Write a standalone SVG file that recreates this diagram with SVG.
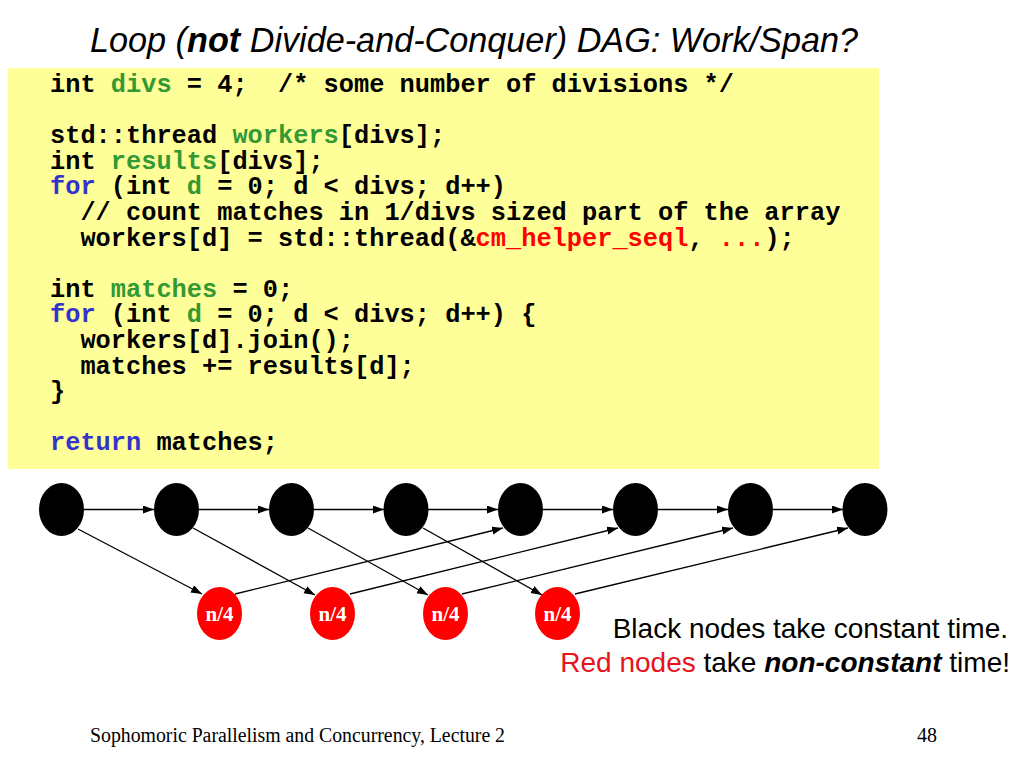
<svg xmlns="http://www.w3.org/2000/svg" width="1024" height="768" viewBox="0 0 1024 768">
<defs>
<marker id="arr" markerWidth="12" markerHeight="10" refX="11" refY="4" orient="auto" markerUnits="userSpaceOnUse">
<path d="M0,0 L11,4 L0,8 Z" fill="#000"/>
</marker>
<style>
.title{font-family:"Liberation Sans",Arial,sans-serif;font-style:italic;font-size:35px;fill:#000}
.code{font-family:"Liberation Mono","Courier New",monospace;font-weight:bold;font-size:25.33px;fill:#000;white-space:pre}
.g{fill:#339933}.b{fill:#3333CC}.r{fill:#FF0000}
.blk{fill:#000}
.red{fill:#FF0000}
.lbl{font-family:"Liberation Serif","Times New Roman",serif;font-weight:bold;font-size:21px;fill:#fff;text-anchor:middle}
.edge{stroke:#000;stroke-width:1.3;fill:none;marker-end:url(#arr)}
.leg{font-family:"Liberation Sans",Arial,sans-serif;font-size:28px;fill:#000;text-anchor:end}
.foot{font-family:"Liberation Serif","Times New Roman",serif;font-size:20px;fill:#000}
</style>
</defs>
<rect width="1024" height="768" fill="#fff"/>
<text class="title" x="90" y="52" textLength="768" lengthAdjust="spacingAndGlyphs">Loop (<tspan font-weight="bold">not</tspan> Divide-and-Conquer) DAG: Work/Span?</text>
<g id="code">
<rect x="8" y="68" width="871" height="401" fill="#FFFF99"/>
<text class="code" xml:space="preserve" x="50" y="92">int <tspan class="g">divs</tspan> = 4;  /* some number of divisions */</text>
<text class="code" xml:space="preserve" x="50" y="143.2">std::thread <tspan class="g">workers</tspan>[divs];</text>
<text class="code" xml:space="preserve" x="50" y="168.8">int <tspan class="g">results</tspan>[divs];</text>
<text class="code" xml:space="preserve" x="50" y="194.4"><tspan class="b">for</tspan> (int <tspan class="g">d</tspan> = 0; d &lt; divs; d++)</text>
<text class="code" xml:space="preserve" x="50" y="220">  // count matches in 1/divs sized part of the array</text>
<text class="code" xml:space="preserve" x="50" y="245.6">  workers[d] = std::thread(&amp;<tspan class="r">cm_helper_seql</tspan>, <tspan class="r">...</tspan>);</text>
<text class="code" xml:space="preserve" x="50" y="296.8">int <tspan class="g">matches</tspan> = 0;</text>
<text class="code" xml:space="preserve" x="50" y="322.4"><tspan class="b">for</tspan> (int <tspan class="g">d</tspan> = 0; d &lt; divs; d++) {</text>
<text class="code" xml:space="preserve" x="50" y="348">  workers[d].join();</text>
<text class="code" xml:space="preserve" x="50" y="373.6">  matches += results[d];</text>
<text class="code" xml:space="preserve" x="50" y="399.2">}</text>
<text class="code" xml:space="preserve" x="50" y="450.4"><tspan class="b">return</tspan> matches;</text>
</g>
<g id="connectors">
<line class="edge" x1="84" y1="509.5" x2="154" y2="509.5"/>
<line class="edge" x1="199" y1="509.5" x2="269" y2="509.5"/>
<line class="edge" x1="314" y1="509.5" x2="384" y2="509.5"/>
<line class="edge" x1="428" y1="509.5" x2="498" y2="509.5"/>
<line class="edge" x1="543" y1="509.5" x2="613" y2="509.5"/>
<line class="edge" x1="658" y1="509.5" x2="728" y2="509.5"/>
<line class="edge" x1="773" y1="509.5" x2="843" y2="509.5"/>
<line class="edge" x1="78" y1="529" x2="202" y2="594"/>
<line class="edge" x1="193" y1="528" x2="315" y2="595"/>
<line class="edge" x1="308" y1="528" x2="428" y2="595"/>
<line class="edge" x1="423" y1="528" x2="542" y2="595"/>
<line class="edge" x1="235" y1="594" x2="503" y2="528"/>
<line class="edge" x1="350" y1="594" x2="618" y2="528"/>
<line class="edge" x1="462" y1="594" x2="733" y2="528"/>
<line class="edge" x1="575" y1="594" x2="848" y2="528"/>
</g>
<g id="b0"><ellipse class="blk" cx="61.5" cy="509.5" rx="22.5" ry="26.5"/></g>
<g id="b1"><ellipse class="blk" cx="176.5" cy="509.5" rx="22.5" ry="26.5"/></g>
<g id="b2"><ellipse class="blk" cx="291.5" cy="509.5" rx="22.5" ry="26.5"/></g>
<g id="b3"><ellipse class="blk" cx="406" cy="509.5" rx="22.5" ry="26.5"/></g>
<g id="b4"><ellipse class="blk" cx="520.5" cy="509.5" rx="22.5" ry="26.5"/></g>
<g id="b5"><ellipse class="blk" cx="635.5" cy="509.5" rx="22.5" ry="26.5"/></g>
<g id="b6"><ellipse class="blk" cx="750.5" cy="509.5" rx="22.5" ry="26.5"/></g>
<g id="b7"><ellipse class="blk" cx="865" cy="509.5" rx="22.5" ry="26.5"/></g>
<g id="r0"><ellipse class="red" cx="219.5" cy="613.5" rx="22.5" ry="26.5"/><text class="lbl" x="219.5" y="621">n/4</text></g>
<g id="r1"><ellipse class="red" cx="332.5" cy="613.5" rx="22.5" ry="26.5"/><text class="lbl" x="332.5" y="621">n/4</text></g>
<g id="r2"><ellipse class="red" cx="445.5" cy="613.5" rx="22.5" ry="26.5"/><text class="lbl" x="445.5" y="621">n/4</text></g>
<g id="r3"><ellipse class="red" cx="557.5" cy="613.5" rx="22.5" ry="26.5"/><text class="lbl" x="557.5" y="621">n/4</text></g>
<g id="legend">
<text class="leg" x="1008" y="638">Black nodes take constant time.</text>
<text class="leg" x="1010" y="672"><tspan fill="#E8141B">Red nodes</tspan> take <tspan font-weight="bold" font-style="italic">non-constant</tspan> time!</text>
</g>
<text class="foot" x="90" y="742" textLength="415" lengthAdjust="spacingAndGlyphs">Sophomoric Parallelism and Concurrency, Lecture 2</text>
<text class="foot" x="917" y="742">48</text>
</svg>
